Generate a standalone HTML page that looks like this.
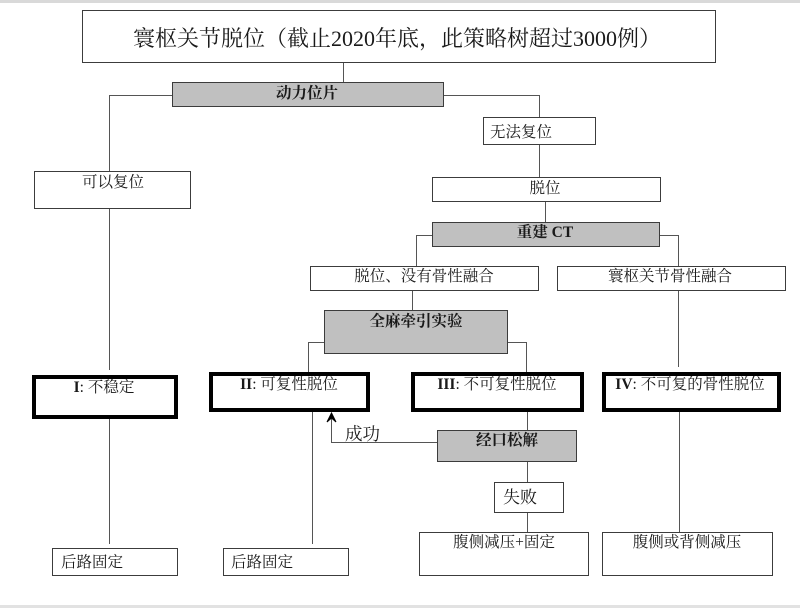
<!DOCTYPE html>
<html><head><meta charset="utf-8">
<style>
html,body{margin:0;padding:0;}
body{width:800px;height:608px;position:relative;overflow:hidden;background:#fff;font-family:"Liberation Serif","Noto Serif CJK SC",serif;color:#1a1a1a;}
.b{position:absolute;box-sizing:border-box;border:1.5px solid #3c3c3c;background:#fff;}
.g{background:#c0c0c0;}
.k{border:4px solid #000;}
.t{position:absolute;white-space:nowrap;line-height:1;font-size:15.5px;}
.c{text-align:center;width:260px;}
.bd{font-weight:bold;}
svg{position:absolute;left:0;top:0;}
</style></head><body>
<div style="position:absolute;left:0;top:0;width:800px;height:3px;background:#d9d9d9"></div>
<div style="position:absolute;left:0;top:605px;width:800px;height:3px;background:#e2e2e2"></div>

<svg width="800" height="608" viewBox="0 0 800 608">
<g stroke="#555" stroke-width="1" fill="none" shape-rendering="crispEdges">
<path d="M343.5 63 V82"/>
<path d="M172 95.5 H109.5 V171"/>
<path d="M444 95.5 H539.5 V117"/>
<path d="M539.5 145 V177"/>
<path d="M545.5 202 V222"/>
<path d="M432 235.5 H416.5 V266"/>
<path d="M660 235.5 H678.5 V266"/>
<path d="M412.5 291 V310"/>
<path d="M324 342.5 H308.5 V372"/>
<path d="M508 342.5 H526.5 V372"/>
<path d="M678.5 291 V367"/>
<path d="M109.5 209 V370"/>
<path d="M109.5 419 V544"/>
<path d="M312.5 412 V544"/>
<path d="M527.5 412 V430"/>
<path d="M527.5 462 V482"/>
<path d="M527.5 513 V532"/>
<path d="M679.5 412 V532"/>
<path d="M437 442.5 H331.5 V415"/>
</g>
<path d="M331.5 413 L327 422 L331.5 418 L336 422 Z" fill="#000" stroke="#000" stroke-width="1"/>
</svg>

<!-- boxes -->
<div class="b" style="left:82px;top:10px;width:634px;height:53px"></div>
<div class="b g" style="left:172px;top:82px;width:272px;height:25px"></div>
<div class="b" style="left:483px;top:117px;width:113px;height:28px"></div>
<div class="b" style="left:34px;top:171px;width:157px;height:38px"></div>
<div class="b" style="left:432px;top:177px;width:229px;height:25px"></div>
<div class="b g" style="left:432px;top:222px;width:228px;height:25px"></div>
<div class="b" style="left:310px;top:266px;width:229px;height:25px"></div>
<div class="b" style="left:557px;top:266px;width:229px;height:25px"></div>
<div class="b g" style="left:324px;top:310px;width:184px;height:44px"></div>
<div class="b k" style="left:32px;top:375px;width:146px;height:44px"></div>
<div class="b k" style="left:209px;top:372px;width:161px;height:40px"></div>
<div class="b k" style="left:411px;top:372px;width:173px;height:40px"></div>
<div class="b k" style="left:602px;top:372px;width:179px;height:40px"></div>
<div class="b g" style="left:437px;top:430px;width:140px;height:32px"></div>
<div class="b" style="left:494px;top:482px;width:70px;height:31px"></div>
<div class="b" style="left:52px;top:548px;width:126px;height:28px"></div>
<div class="b" style="left:223px;top:548px;width:126px;height:28px"></div>
<div class="b" style="left:419px;top:532px;width:170px;height:44px"></div>
<div class="b" style="left:602px;top:532px;width:171px;height:44px"></div>

<!-- texts -->
<div class="t" style="left:133px;top:28px;font-size:22px">寰枢关节脱位（截止2020年底，此策略树超过3000例）</div>
<div class="t c bd" style="left:177px;top:86px">动力位片</div>
<div class="t" style="left:490px;top:125px">无法复位</div>
<div class="t c" style="left:-17px;top:175px">可以复位</div>
<div class="t c" style="left:415px;top:181px">脱位</div>
<div class="t c bd" style="left:415px;top:225px">重建 CT</div>
<div class="t c" style="left:294px;top:269px">脱位、没有骨性融合</div>
<div class="t c" style="left:540px;top:269px">寰枢关节骨性融合</div>
<div class="t c bd" style="left:286px;top:314px">全麻牵引实验</div>
<div class="t c" style="left:-26px;top:380px"><b>I</b>: 不稳定</div>
<div class="t c" style="left:159px;top:377px"><b>II</b>: 可复性脱位</div>
<div class="t c" style="left:367px;top:377px"><b>III</b>: 不可复性脱位</div>
<div class="t c" style="left:560px;top:377px"><b>IV</b>: 不可复的骨性脱位</div>
<div class="t" style="left:345px;top:426px;font-size:17.5px">成功</div>
<div class="t c bd" style="left:377px;top:433px">经口松解</div>
<div class="t" style="left:503px;top:489px;font-size:17px">失败</div>
<div class="t" style="left:61px;top:555px">后路固定</div>
<div class="t" style="left:231px;top:555px">后路固定</div>
<div class="t c" style="left:374px;top:535px">腹侧减压+固定</div>
<div class="t c" style="left:557px;top:535px">腹侧或背侧减压</div>
</body></html>
